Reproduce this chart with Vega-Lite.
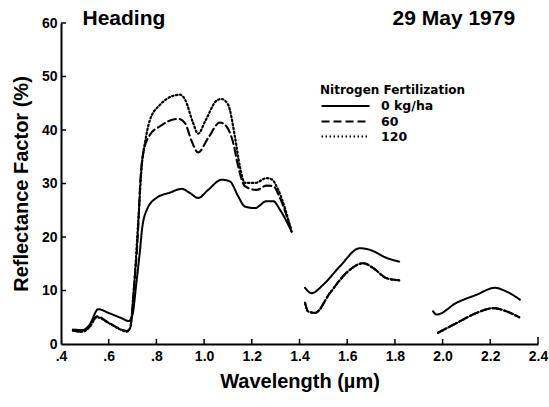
{
  "$schema": "https://vega.github.io/schema/vega-lite/v6.json",
  "width": 477,
  "height": 321,
  "autosize": {"type": "none"},
  "padding": {"left": 61, "top": 23, "right": 11, "bottom": 63},
  "background": "white",
  "config": {
    "font": "Liberation Sans",
    "view": {"stroke": null},
    "axis": {"domainColor": "black", "domainWidth": 2, "ticks": false, "grid": false, "labelColor": "black", "titleColor": "black", "labelFontWeight": "bold", "titleFontWeight": "bold"}
  },
  "datasets": {
    "curves": [
      {"n": "0 kg/ha", "s": "a", "x": 0.45, "y": 2.7},
      {"n": "0 kg/ha", "s": "a", "x": 0.49, "y": 2.6},
      {"n": "0 kg/ha", "s": "a", "x": 0.52, "y": 3.6},
      {"n": "0 kg/ha", "s": "a", "x": 0.556, "y": 6.5},
      {"n": "0 kg/ha", "s": "a", "x": 0.6, "y": 5.8},
      {"n": "0 kg/ha", "s": "a", "x": 0.65, "y": 4.9},
      {"n": "0 kg/ha", "s": "a", "x": 0.685, "y": 4.3},
      {"n": "0 kg/ha", "s": "a", "x": 0.7, "y": 5.5},
      {"n": "0 kg/ha", "s": "a", "x": 0.715, "y": 11},
      {"n": "0 kg/ha", "s": "a", "x": 0.73, "y": 17},
      {"n": "0 kg/ha", "s": "a", "x": 0.74, "y": 21.5},
      {"n": "0 kg/ha", "s": "a", "x": 0.76, "y": 25.1},
      {"n": "0 kg/ha", "s": "a", "x": 0.8, "y": 27.3},
      {"n": "0 kg/ha", "s": "a", "x": 0.857, "y": 28.3},
      {"n": "0 kg/ha", "s": "a", "x": 0.906, "y": 29.0},
      {"n": "0 kg/ha", "s": "a", "x": 0.941, "y": 28.2},
      {"n": "0 kg/ha", "s": "a", "x": 0.975, "y": 27.3},
      {"n": "0 kg/ha", "s": "a", "x": 1.017, "y": 28.8},
      {"n": "0 kg/ha", "s": "a", "x": 1.073, "y": 30.7},
      {"n": "0 kg/ha", "s": "a", "x": 1.108, "y": 30.4},
      {"n": "0 kg/ha", "s": "a", "x": 1.143, "y": 27.6},
      {"n": "0 kg/ha", "s": "a", "x": 1.171, "y": 25.7},
      {"n": "0 kg/ha", "s": "a", "x": 1.213, "y": 25.4},
      {"n": "0 kg/ha", "s": "a", "x": 1.262, "y": 26.7},
      {"n": "0 kg/ha", "s": "a", "x": 1.29, "y": 26.7},
      {"n": "0 kg/ha", "s": "a", "x": 1.318, "y": 25.1},
      {"n": "0 kg/ha", "s": "a", "x": 1.367, "y": 21.0},
      {"n": "0 kg/ha", "s": "b", "x": 1.423, "y": 10.5},
      {"n": "0 kg/ha", "s": "b", "x": 1.451, "y": 9.5},
      {"n": "0 kg/ha", "s": "b", "x": 1.5, "y": 11.1},
      {"n": "0 kg/ha", "s": "b", "x": 1.569, "y": 14.5},
      {"n": "0 kg/ha", "s": "b", "x": 1.653, "y": 17.9},
      {"n": "0 kg/ha", "s": "b", "x": 1.695, "y": 17.6},
      {"n": "0 kg/ha", "s": "b", "x": 1.765, "y": 16.1},
      {"n": "0 kg/ha", "s": "b", "x": 1.818, "y": 15.4},
      {"n": "0 kg/ha", "s": "c", "x": 1.96, "y": 6.1},
      {"n": "0 kg/ha", "s": "c", "x": 1.975, "y": 5.5},
      {"n": "0 kg/ha", "s": "c", "x": 2.058, "y": 7.7},
      {"n": "0 kg/ha", "s": "c", "x": 2.142, "y": 9.2},
      {"n": "0 kg/ha", "s": "c", "x": 2.219, "y": 10.5},
      {"n": "0 kg/ha", "s": "c", "x": 2.268, "y": 9.8},
      {"n": "0 kg/ha", "s": "c", "x": 2.324, "y": 8.3},

      {"n": "60", "s": "a", "x": 0.45, "y": 2.5},
      {"n": "60", "s": "a", "x": 0.49, "y": 2.3},
      {"n": "60", "s": "a", "x": 0.52, "y": 3.2},
      {"n": "60", "s": "a", "x": 0.55, "y": 5.2},
      {"n": "60", "s": "a", "x": 0.6, "y": 4.0},
      {"n": "60", "s": "a", "x": 0.654, "y": 2.7},
      {"n": "60", "s": "a", "x": 0.675, "y": 2.4},
      {"n": "60", "s": "a", "x": 0.69, "y": 3.0},
      {"n": "60", "s": "a", "x": 0.705, "y": 10},
      {"n": "60", "s": "a", "x": 0.724, "y": 22},
      {"n": "60", "s": "a", "x": 0.732, "y": 30},
      {"n": "60", "s": "a", "x": 0.745, "y": 35.7},
      {"n": "60", "s": "a", "x": 0.773, "y": 39.1},
      {"n": "60", "s": "a", "x": 0.815, "y": 40.7},
      {"n": "60", "s": "a", "x": 0.892, "y": 42.1},
      {"n": "60", "s": "a", "x": 0.92, "y": 41.3},
      {"n": "60", "s": "a", "x": 0.948, "y": 37.9},
      {"n": "60", "s": "a", "x": 0.975, "y": 35.8},
      {"n": "60", "s": "a", "x": 1.017, "y": 38.5},
      {"n": "60", "s": "a", "x": 1.066, "y": 41.4},
      {"n": "60", "s": "a", "x": 1.087, "y": 41.0},
      {"n": "60", "s": "a", "x": 1.122, "y": 37.6},
      {"n": "60", "s": "a", "x": 1.143, "y": 33.2},
      {"n": "60", "s": "a", "x": 1.171, "y": 29.5},
      {"n": "60", "s": "a", "x": 1.22, "y": 28.8},
      {"n": "60", "s": "a", "x": 1.262, "y": 29.6},
      {"n": "60", "s": "a", "x": 1.29, "y": 29.5},
      {"n": "60", "s": "a", "x": 1.318, "y": 27.3},
      {"n": "60", "s": "a", "x": 1.367, "y": 21.0},
      {"n": "60", "s": "b", "x": 1.423, "y": 7.7},
      {"n": "60", "s": "b", "x": 1.436, "y": 6.1},
      {"n": "60", "s": "b", "x": 1.465, "y": 5.8},
      {"n": "60", "s": "b", "x": 1.527, "y": 9.5},
      {"n": "60", "s": "b", "x": 1.604, "y": 13.6},
      {"n": "60", "s": "b", "x": 1.667, "y": 15.1},
      {"n": "60", "s": "b", "x": 1.709, "y": 14.2},
      {"n": "60", "s": "b", "x": 1.765, "y": 12.3},
      {"n": "60", "s": "b", "x": 1.818, "y": 11.9},
      {"n": "60", "s": "c", "x": 1.981, "y": 2.1},
      {"n": "60", "s": "c", "x": 2.058, "y": 3.9},
      {"n": "60", "s": "c", "x": 2.142, "y": 5.8},
      {"n": "60", "s": "c", "x": 2.212, "y": 6.7},
      {"n": "60", "s": "c", "x": 2.268, "y": 6.1},
      {"n": "60", "s": "c", "x": 2.321, "y": 5.0},

      {"n": "120", "s": "a", "x": 0.45, "y": 2.5},
      {"n": "120", "s": "a", "x": 0.49, "y": 2.3},
      {"n": "120", "s": "a", "x": 0.52, "y": 3.2},
      {"n": "120", "s": "a", "x": 0.55, "y": 5.0},
      {"n": "120", "s": "a", "x": 0.6, "y": 3.9},
      {"n": "120", "s": "a", "x": 0.654, "y": 2.6},
      {"n": "120", "s": "a", "x": 0.675, "y": 2.3},
      {"n": "120", "s": "a", "x": 0.69, "y": 3.0},
      {"n": "120", "s": "a", "x": 0.705, "y": 10},
      {"n": "120", "s": "a", "x": 0.724, "y": 23},
      {"n": "120", "s": "a", "x": 0.74, "y": 34},
      {"n": "120", "s": "a", "x": 0.752, "y": 37.6},
      {"n": "120", "s": "a", "x": 0.773, "y": 41.9},
      {"n": "120", "s": "a", "x": 0.815, "y": 44.7},
      {"n": "120", "s": "a", "x": 0.871, "y": 46.4},
      {"n": "120", "s": "a", "x": 0.899, "y": 46.6},
      {"n": "120", "s": "a", "x": 0.92, "y": 45.7},
      {"n": "120", "s": "a", "x": 0.954, "y": 41.3},
      {"n": "120", "s": "a", "x": 0.975, "y": 39.3},
      {"n": "120", "s": "a", "x": 1.004, "y": 41.6},
      {"n": "120", "s": "a", "x": 1.053, "y": 45.5},
      {"n": "120", "s": "a", "x": 1.073, "y": 45.8},
      {"n": "120", "s": "a", "x": 1.101, "y": 44.7},
      {"n": "120", "s": "a", "x": 1.129, "y": 38.8},
      {"n": "120", "s": "a", "x": 1.15, "y": 33.2},
      {"n": "120", "s": "a", "x": 1.171, "y": 30.1},
      {"n": "120", "s": "a", "x": 1.213, "y": 30.1},
      {"n": "120", "s": "a", "x": 1.262, "y": 31.0},
      {"n": "120", "s": "a", "x": 1.283, "y": 30.8},
      {"n": "120", "s": "a", "x": 1.311, "y": 28.8},
      {"n": "120", "s": "a", "x": 1.367, "y": 21.0},
      {"n": "120", "s": "b", "x": 1.423, "y": 7.7},
      {"n": "120", "s": "b", "x": 1.436, "y": 6.1},
      {"n": "120", "s": "b", "x": 1.465, "y": 5.8},
      {"n": "120", "s": "b", "x": 1.527, "y": 9.5},
      {"n": "120", "s": "b", "x": 1.604, "y": 13.6},
      {"n": "120", "s": "b", "x": 1.667, "y": 15.1},
      {"n": "120", "s": "b", "x": 1.709, "y": 14.2},
      {"n": "120", "s": "b", "x": 1.765, "y": 12.3},
      {"n": "120", "s": "b", "x": 1.818, "y": 11.9},
      {"n": "120", "s": "c", "x": 1.981, "y": 2.1},
      {"n": "120", "s": "c", "x": 2.058, "y": 3.9},
      {"n": "120", "s": "c", "x": 2.142, "y": 5.8},
      {"n": "120", "s": "c", "x": 2.212, "y": 6.7},
      {"n": "120", "s": "c", "x": 2.268, "y": 6.1},
      {"n": "120", "s": "c", "x": 2.321, "y": 5.0}
    ],
    "labels": [
      {"t": "Heading", "x": 0.49, "y": 60.8},
      {"t": "29 May 1979", "x": 1.79, "y": 60.8}
    ],
    "xticks": [
      {"x": 0.6, "y0": 0, "y1": 0.95}, {"x": 0.8, "y0": 0, "y1": 0.95}, {"x": 1.0, "y0": 0, "y1": 0.95},
      {"x": 1.2, "y0": 0, "y1": 0.95}, {"x": 1.4, "y0": 0, "y1": 0.95}, {"x": 1.6, "y0": 0, "y1": 0.95},
      {"x": 1.8, "y0": 0, "y1": 0.95}, {"x": 2.0, "y0": 0, "y1": 0.95}, {"x": 2.2, "y0": 0, "y1": 0.95},
      {"x": 2.4, "y0": 0, "y1": 1.3}
    ],
    "yticks": [
      {"y": 10, "x0": 0.4, "x1": 0.421}, {"y": 20, "x0": 0.4, "x1": 0.421}, {"y": 30, "x0": 0.4, "x1": 0.421},
      {"y": 40, "x0": 0.4, "x1": 0.421}, {"y": 50, "x0": 0.4, "x1": 0.421}, {"y": 60, "x0": 0.4, "x1": 0.421}
    ]
  },
  "layer": [
    {
      "data": {"name": "curves"},
      "mark": {"type": "line", "color": "black", "interpolate": "monotone", "strokeCap": "round"},
      "encoding": {
        "x": {
          "field": "x", "type": "quantitative",
          "scale": {"domain": [0.4, 2.4], "nice": false, "zero": false},
          "axis": {
            "values": [0.4, 0.6, 0.8, 1.0, 1.2, 1.4, 1.6, 1.8, 2.0, 2.2, 2.4],
            "labelExpr": "datum.value < 0.99 ? replace(format(datum.value, '.1f'), '0.', '.') : format(datum.value, '.1f')",
            "labelPadding": 5, "labelFontSize": 14, "labelFlush": false,
            "title": "Wavelength (µm)", "titleFontSize": 20, "titlePadding": 8
          }
        },
        "y": {
          "field": "y", "type": "quantitative",
          "scale": {"domain": [0, 60], "nice": false},
          "axis": {
            "values": [0, 10, 20, 30, 40, 50, 60],
            "labelPadding": 4, "labelFontSize": 14, "labelFlush": false,
            "title": "Reflectance Factor (%)", "titleFontSize": 20, "titlePadding": 10
          }
        },
        "detail": {"field": "s"},
        "strokeDash": {
          "field": "n", "type": "nominal",
          "scale": {"domain": ["0 kg/ha", "60", "120"], "range": [[1, 0], [8, 4], [1.5, 2.5]]},
          "legend": {
            "title": "Nitrogen Fertilization", "orient": "none", "legendX": 259, "legendY": 62,
            "titleFont": "DejaVu Sans", "titleFontSize": 12, "titleFontWeight": "bold", "titleColor": "black", "titlePadding": 1,
            "labelFont": "DejaVu Sans", "labelFontSize": 12.5, "labelFontWeight": "bold", "labelColor": "black",
            "symbolType": "M-1,0H5.86", "symbolSize": 196, "symbolStrokeColor": "black", "symbolStrokeWidth": 2,
            "rowPadding": 0, "labelOffset": 44
          }
        },
        "strokeWidth": {
          "field": "n", "type": "nominal",
          "scale": {"domain": ["0 kg/ha", "60", "120"], "range": [2, 2.2, 1.8]},
          "legend": null
        }
      }
    },
    {
      "data": {"name": "xticks"},
      "mark": {"type": "rule", "color": "black", "strokeWidth": 1.5},
      "encoding": {
        "x": {"field": "x", "type": "quantitative"},
        "y": {"field": "y0", "type": "quantitative"},
        "y2": {"field": "y1"}
      }
    },
    {
      "data": {"name": "yticks"},
      "mark": {"type": "rule", "color": "black", "strokeWidth": 1.5},
      "encoding": {
        "y": {"field": "y", "type": "quantitative"},
        "x": {"field": "x0", "type": "quantitative"},
        "x2": {"field": "x1"}
      }
    },
    {
      "data": {"name": "labels"},
      "mark": {"type": "text", "align": "left", "baseline": "middle", "fontSize": 21, "fontWeight": "bold", "color": "black"},
      "encoding": {
        "x": {"field": "x", "type": "quantitative"},
        "y": {"field": "y", "type": "quantitative"},
        "text": {"field": "t"}
      }
    }
  ]
}
